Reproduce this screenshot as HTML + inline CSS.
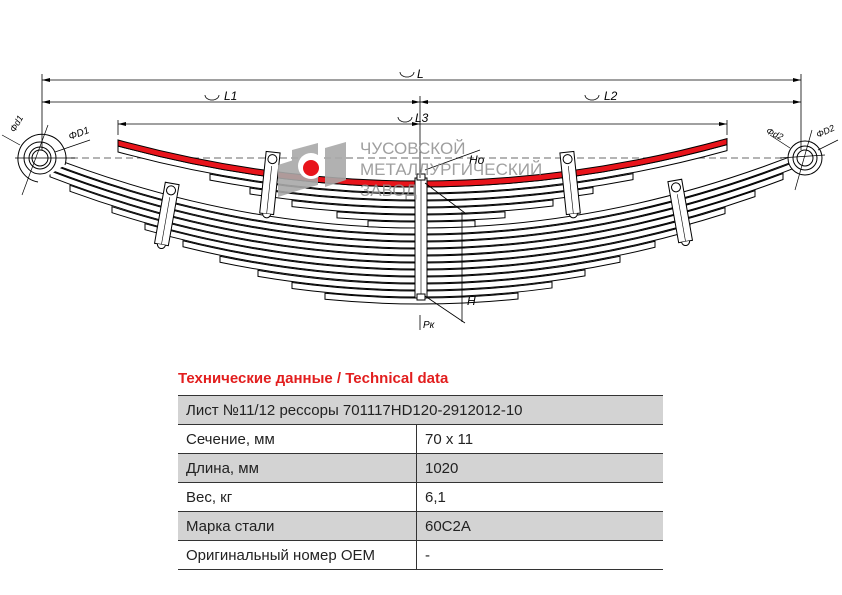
<!DOCTYPE html>
<html><head><meta charset="utf-8"><style>
body{margin:0;background:#fff;width:842px;height:595px;overflow:hidden;font-family:"Liberation Sans",sans-serif}
svg{position:absolute;left:0;top:0}
.t{position:absolute;left:178px;top:395px;width:485px;border-collapse:collapse;font-size:15px;color:#222}
.t td{height:28px;padding:0 0 0 8px;border-bottom:1.5px solid #333}
.g td{background:#d3d3d3}
.t td.v{border-left:1.5px solid #333}
h1{position:absolute;left:178px;top:370px;margin:0;font-size:15px;color:#e21e1e;font-weight:bold}
</style></head><body>
<svg id="s" width="842" height="360" viewBox="0 0 842 360" font-family="Liberation Sans" font-style="italic" font-size="12"></svg>
<h1>Технические данные / Technical data</h1>
<table class="t">
<tr class="g"><td colspan="2" style="border-top:1.5px solid #333">Лист №11/12 рессоры 701117HD120-2912012-10</td></tr>
<tr><td style="width:230px">Сечение, мм</td><td class="v">70 x 11</td></tr>
<tr class="g"><td>Длина, мм</td><td class="v">1020</td></tr>
<tr><td>Вес, кг</td><td class="v">6,1</td></tr>
<tr class="g"><td>Марка стали</td><td class="v">60C2A</td></tr>
<tr><td>Оригинальный номер OEM</td><td class="v">-</td></tr>
</table>
<script>
var s=document.getElementById('s'),h='';
function leaf(x1,x2,c,k,fill){
 function y(x){return c-k*(x-420)*(x-420)}
 function d(x){return -2*k*(x-420)}
 var xm=(x1+x2)/2,ya=y(x1),cy=ya+d(x1)*(xm-x1);
 var p='M'+x1+','+ya+' Q'+xm+','+cy+' '+x2+','+y(x2)+' L'+x2+','+(y(x2)+6)+' Q'+xm+','+(cy+6)+' '+x1+','+(ya+6)+'Z';
 h+='<path d="'+p+'" fill="'+(fill||'#fff')+'" stroke="#000" stroke-width="1"/>';
}
h+='<line x1="60" y1="158" x2="790" y2="158" stroke="#888" stroke-width="1.3" stroke-dasharray="7,4"/>';
var L=[[325,518],[292,552],[258,585],[220,620],[183,655],[145,690],[112,725],[70,755],[50,783],[45,800],[42,808]];
var c0=298,k=0.00052;
for(var i=0;i<L.length;i++){leaf(L[i][0],L[i][1],c0-7*i,k);}
var U=[[368,475],[337,505],[292,553],[250,593],[210,633]];
var u0=222,ku=0.00045;
for(i=0;i<U.length;i++){leaf(U[i][0],U[i][1],u0-7*i,ku);}
leaf(118,727,u0-7*5,ku);
leaf(118,727,u0-7*6+1,ku,'#e8141b');
h+='<rect x="415" y="178" width="12" height="120" fill="#fff" stroke="#000"/><line x1="421" y1="178" x2="421" y2="298" stroke="#000" stroke-width=".6"/>';
h+='<rect x="417" y="174" width="8" height="6" fill="#fff" stroke="#000"/><rect x="417" y="294" width="8" height="6" fill="#fff" stroke="#000"/>';
function cl(x,y,a){h+='<g transform="translate('+x+','+y+') rotate('+a+')"><rect x="-7" y="-30" width="14" height="62" fill="#fff" stroke="#000"/><line x1="0" y1="-16" x2="0" y2="32" stroke="#000" stroke-width=".6"/><circle cx="0" cy="-23" r="4.5" fill="#fff" stroke="#000"/><path d="M-4,32 A4,4 0 0 0 4,32" fill="#fff" stroke="#000"/></g>';}
cl(167,213,10);cl(270,182,6);cl(570,182,-6);cl(680,210,-10);
h+='<g fill="none" stroke="#000"><path d="M65,165 A24,24 0 1 0 38,182" fill="#fff"/><circle cx="40" cy="158" r="16" fill="#fff"/><circle cx="40" cy="158" r="11"/><circle cx="40" cy="158" r="8"/>';
h+='<line x1="22" y1="195" x2="48" y2="125" stroke-width=".7"/><line x1="15" y1="158" x2="75" y2="158" stroke-width=".7"/><line x1="2" y1="135" x2="20" y2="145" stroke-width=".7"/><line x1="55" y1="152" x2="90" y2="140" stroke-width=".7"/>';
h+='<circle cx="805" cy="158" r="17" fill="#fff"/><circle cx="805" cy="158" r="12"/><circle cx="805" cy="158" r="8"/><line x1="795" y1="190" x2="812" y2="130" stroke-width=".7"/><line x1="780" y1="158" x2="825" y2="155" stroke-width=".7"/><line x1="770" y1="135" x2="790" y2="148" stroke-width=".7"/><line x1="818" y1="150" x2="838" y2="140" stroke-width=".7"/></g>';
h+='<g stroke="#000" stroke-width=".8" fill="none"><line x1="42" y1="74" x2="42" y2="150"/><line x1="801" y1="74" x2="801" y2="150"/><line x1="420" y1="96" x2="420" y2="178"/><line x1="118" y1="120" x2="118" y2="135"/><line x1="727" y1="120" x2="727" y2="135"/>';
h+='<line x1="42" y1="80" x2="801" y2="80"/><line x1="42" y1="102" x2="801" y2="102"/><line x1="118" y1="124" x2="727" y2="124"/>';
h+='<path d="M400,72 a7,5 0 0 0 14,0"/><path d="M205,95 a7,5 0 0 0 14,0"/><path d="M585,95 a7,5 0 0 0 14,0"/><path d="M398,117 a7,5 0 0 0 14,0"/>';
h+='<line x1="462" y1="212" x2="462" y2="322"/><line x1="425" y1="170" x2="480" y2="150"/><line x1="425" y1="183" x2="465" y2="213"/><line x1="425" y1="296" x2="465" y2="323"/><line x1="420" y1="315" x2="420" y2="330"/></g>';
h+='<g fill="#000"><path d="M42,80 l8,-2 v4z M801,80 l-8,-2 v4z M42,102 l8,-2 v4z M801,102 l-8,-2 v4z M420,102 l-8,-2 v4z M420,102 l8,-2 v4z M118,124 l8,-2 v4z M727,124 l-8,-2 v4z M420,124 l-8,-2 v4z"/></g>';
h+='<text x="417" y="78">L</text><text x="224" y="100">L1</text><text x="604" y="100">L2</text><text x="415" y="122">L3</text><text x="467" y="305">H</text><text x="469" y="164">Ho</text><text x="423" y="328" font-size="10">Pк</text>';
h+='<text x="12" y="132" font-size="9" transform="rotate(-60 14 130)">Φd1</text><text x="70" y="140" font-size="10" transform="rotate(-20 70 140)">ΦD1</text><text x="765" y="135" font-size="9" transform="rotate(25 770 135)">Φd2</text><text x="818" y="138" font-size="9" transform="rotate(-25 818 138)">ΦD2</text>';
h+='<path d="M292,150 L318,143 L318,185 L292,192 Z M278,165 L300,158 L300,190 L278,197Z M325,148 L346,142 L346,180 L325,187Z" fill="#a9a9a9" opacity=".9"/><circle cx="311" cy="166" r="13" fill="#fff"/><circle cx="311" cy="168" r="8" fill="#e8141b"/>';
h+='<g font-style="normal" font-size="17" fill="#8f8f8f" opacity=".85"><text x="360" y="154">ЧУСОВСКОЙ</text><text x="360" y="175">МЕТАЛЛУРГИЧЕСКИЙ</text><text x="360" y="196">ЗАВОД</text></g>';
s.innerHTML=h;
</script>
</body></html>
